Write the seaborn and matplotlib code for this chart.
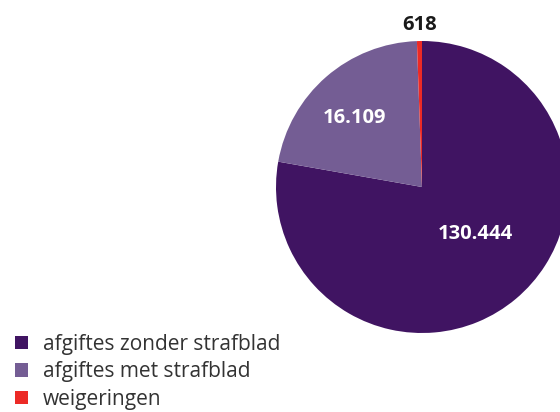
import matplotlib
matplotlib.use("Agg")
import matplotlib.pyplot as plt
import seaborn as sns
from matplotlib.patches import Patch

sns.set_theme(style="white")
plt.rcParams["font.family"] = ["Open Sans", "DejaVu Sans"]

# categorieen en aantallen (labels)
categories = ["afgiftes zonder strafblad", "afgiftes met strafblad", "weigeringen"]
counts = [130444, 16109, 618]
count_labels = ["130.444", "16.109", "618"]
# hoekaandeel zoals getekend in de afbeelding (graden)
drawn_angles = [280, 78, 2]
colors = ["#401462", "#745d94", "#ec2a26"]

fig = plt.figure(figsize=(5.6, 4.12), dpi=100)
W, H = 560, 412
ax = fig.add_axes([276 / W, 79 / H, 292 / W, 292 / H])

wedges, _ = ax.pie(drawn_angles, colors=colors, startangle=90, counterclock=False,
                   radius=1, wedgeprops=dict(linewidth=0))
ax.set_xlim(-1, 1)
ax.set_ylim(-1, 1)
ax.axis("off")

# labels in px-coordinaten van de figuur
label_pos = [(475, 234, "white"), (355, 118, "white"), (420, 25, "#1a1a1a")]
for lab, (px, py, c) in zip(count_labels, label_pos):
    fig.text(px / W, 1 - py / H, lab, color=c, fontsize=14.5, fontweight="bold",
             ha="center", va="center")

handles = [Patch(facecolor=c, edgecolor="none") for c in colors]
fig.legend(handles, categories, loc="upper left",
           bbox_to_anchor=(15 / W, 1 - 334 / H),
           frameon=False, fontsize=15, handlelength=0.6, handleheight=0.6,
           handletextpad=0.75, labelspacing=0.3, borderaxespad=0, borderpad=0,
           labelcolor="#333333")

fig.savefig("out.png", dpi=100)
